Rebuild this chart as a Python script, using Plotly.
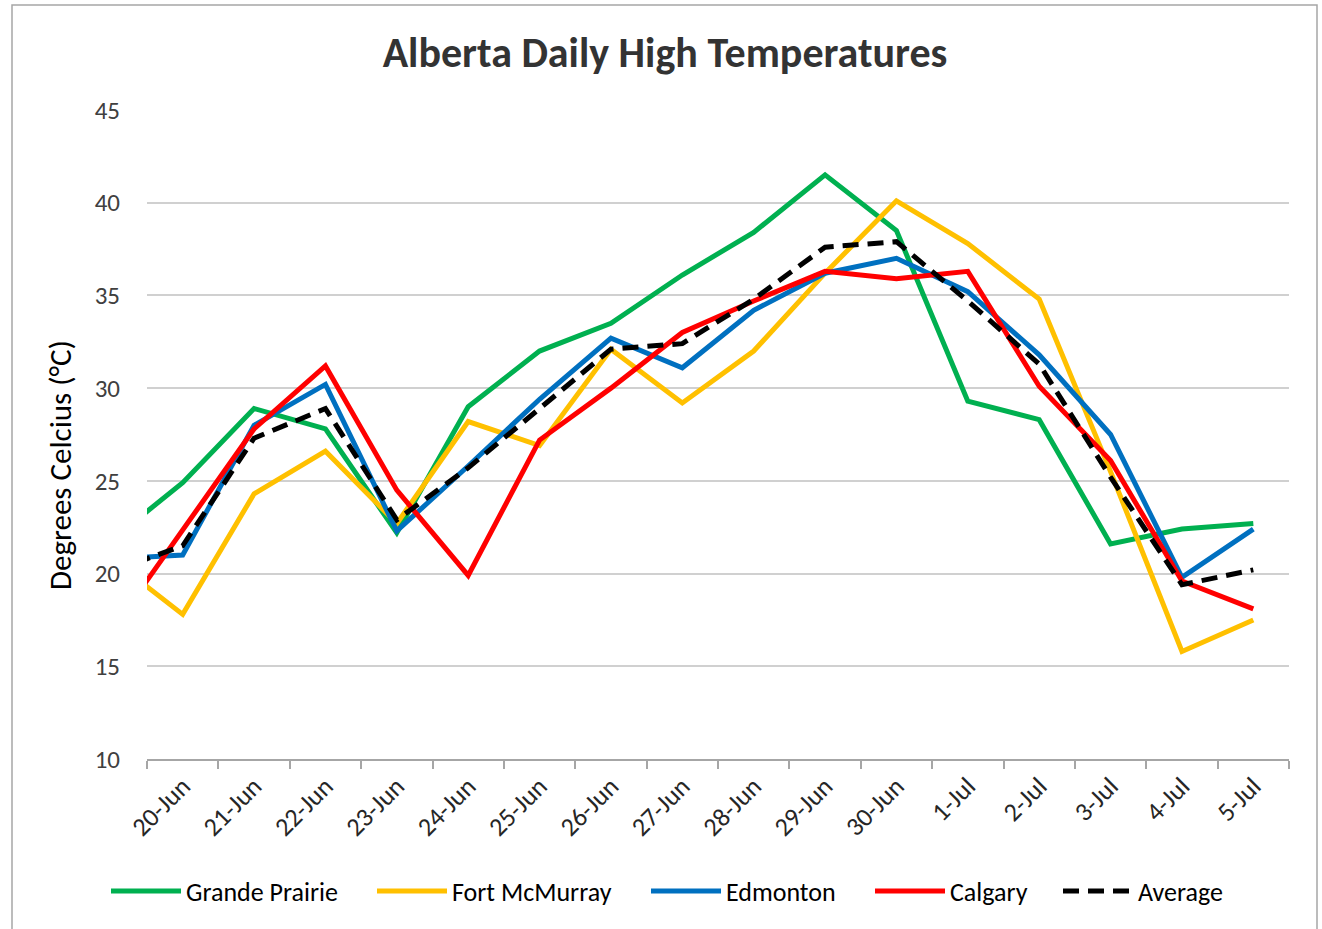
import plotly.graph_objects as go

dates = ["19-Jun", "20-Jun", "21-Jun", "22-Jun", "23-Jun", "24-Jun", "25-Jun", "26-Jun",
         "27-Jun", "28-Jun", "29-Jun", "30-Jun", "1-Jul", "2-Jul", "3-Jul", "4-Jul", "5-Jul"]

grande_prairie = [21.8, 24.9, 28.9, 27.8, 22.2, 29.0, 32.0, 33.5, 36.1, 38.4, 41.5, 38.5, 29.3, 28.3, 21.6, 22.4, 22.7]
fort_mcmurray = [20.8, 17.8, 24.3, 26.6, 22.7, 28.2, 26.9, 32.1, 29.2, 32.0, 36.2, 40.1, 37.8, 34.8, 25.5, 15.8, 17.5]
edmonton = [20.8, 21.0, 28.0, 30.2, 22.3, 25.8, 29.4, 32.7, 31.1, 34.2, 36.2, 37.0, 35.2, 31.8, 27.5, 19.8, 22.4]
calgary = [16.9, 22.3, 27.8, 31.2, 24.5, 19.9, 27.2, 30.0, 33.0, 34.7, 36.3, 35.9, 36.3, 30.1, 26.1, 19.6, 18.1]
average = [20.1, 21.5, 27.3, 28.9, 22.9, 25.7, 28.9, 32.1, 32.4, 34.8, 37.6, 37.9, 34.7, 31.3, 25.2, 19.4, 20.2]

series = [
    ("Grande Prairie", grande_prairie, "#00B050", "solid"),
    ("Fort McMurray", fort_mcmurray, "#FFC000", "solid"),
    ("Edmonton", edmonton, "#0070C0", "solid"),
    ("Calgary", calgary, "#FF0000", "solid"),
    ("Average", average, "#000000", "16px,9px"),
]
legend_starts = [112, 378, 652, 876, 1064]

FONT = "Calibri, Carlito, Lato, 'Open Sans', sans-serif"

W, H = 1322, 929
L, R, T, B = 147, 33, 110, 170
pw, ph = W - L - R, H - T - B

def px_x(p):
    return (p - L) / pw

def px_y(p):
    return (H - B - p) / ph

fig = go.Figure()
legends = {}
for i, (name, vals, color, dash) in enumerate(series):
    key = "legend" if i == 0 else f"legend{i + 1}"
    fig.add_trace(go.Scatter(
        x=dates, y=vals, name=name, mode="lines",
        line=dict(color=color, width=5, dash=dash),
        legend=key,
    ))
    legends[key] = dict(
        orientation="h", x=px_x(legend_starts[i] - 6), xanchor="left",
        y=px_y(891), yanchor="middle",
        font=dict(size=26, color="#000000", family=FONT), itemwidth=70,
        bgcolor="rgba(0,0,0,0)",
    )

fig.update_layout(
    width=W, height=H,
    margin=dict(l=L, r=R, t=T, b=B),
    paper_bgcolor="white", plot_bgcolor="white",
    font=dict(family=FONT, color="#404040"),
    title=dict(text="<b>Alberta Daily High Temperatures</b>", x=665 / W, xanchor="center",
               y=1 - 52 / H, yanchor="middle", font=dict(size=42, color="#333333", family=FONT)),
    showlegend=True,
    xaxis=dict(
        type="category", range=[0.5, 16.5], tickson="boundaries",
        showgrid=False, showline=True, linecolor="#A6A6A6", linewidth=1.5,
        ticks="outside", ticklen=8, tickcolor="#A6A6A6", tickwidth=1.5,
        tickangle=-45, tickfont=dict(size=26, color="#262626", family=FONT),
    ),
    yaxis=dict(
        range=[10, 45], dtick=5, showgrid=True, gridcolor="#D0D0D0", gridwidth=1.5,
        showline=False, zeroline=False, ticks="", ticklabelstandoff=26,
        tickfont=dict(size=25, color="#404040", family=FONT),
    ),
    annotations=[dict(text="Degrees Celcius (°C)", textangle=-90, showarrow=False,
                      xref="paper", yref="paper", x=px_x(60), y=px_y(465),
                      xanchor="center", yanchor="middle",
                      font=dict(size=31, color="#000000", family=FONT))],
    shapes=[dict(type="rect", xref="paper", yref="paper",
                 x0=px_x(12), x1=px_x(1317), y0=px_y(940), y1=px_y(5),
                 line=dict(color="#A6A6A6", width=1.5), fillcolor="rgba(0,0,0,0)", layer="below")],
    **legends,
)

fig.write_html("out.html", config={"displayModeBar": False},
               post_script="document.body.style.margin='0px';")
